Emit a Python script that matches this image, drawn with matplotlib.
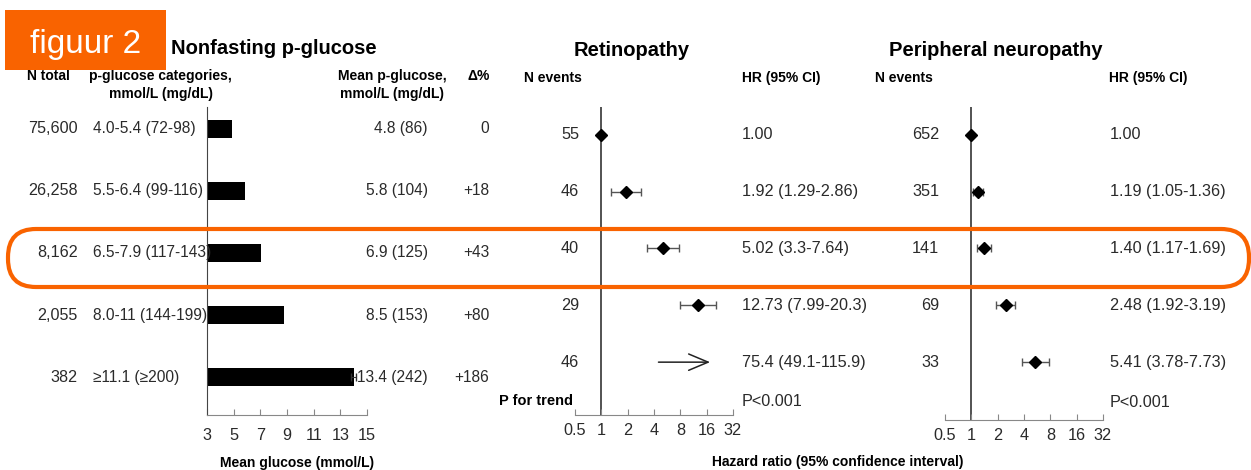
import numpy as np
import matplotlib
matplotlib.use("Agg")
import matplotlib.pyplot as plt
import matplotlib.transforms as mtransforms
from matplotlib.patches import Rectangle, FancyBboxPatch

plt.rcParams['font.family'] = ['Liberation Sans', 'DejaVu Sans']

# ---- data ----
n_total = ['75,600', '26,258', '8,162', '2,055', '382']
categories = ['4.0-5.4 (72-98)', '5.5-6.4 (99-116)', '6.5-7.9 (117-143)',
              '8.0-11 (144-199)', '\u226511.1 (\u2265200)']
mean_text = ['4.8 (86)', '5.8 (104)', '6.9 (125)', '8.5 (153)', '13.4 (242)']
delta_pct = ['0', '+18', '+43', '+80', '+186']
bar_len = [4.9, 5.85, 7.05, 8.8, 14.0]
bar_err = [0, 0, 0, 0, 0.2]
glucose_ticks = [3, 5, 7, 9, 11, 13, 15]

ret_events = ['55', '46', '40', '29', '46']
ret_hr = [1.00, 1.92, 5.02, 12.73, 75.4]
ret_lo = [1.00, 1.29, 3.3, 7.99, 49.1]
ret_hi = [1.00, 2.86, 7.64, 20.3, 115.9]
ret_text = ['1.00', '1.92 (1.29-2.86)', '5.02 (3.3-7.64)',
            '12.73 (7.99-20.3)', '75.4 (49.1-115.9)']
ret_arrow = (4.5, 17.5)   # off-scale row drawn as arrow

neu_events = ['652', '351', '141', '69', '33']
neu_hr = [1.00, 1.19, 1.40, 2.48, 5.41]
neu_lo = [1.00, 1.05, 1.17, 1.92, 3.78]
neu_hi = [1.00, 1.36, 1.69, 3.19, 7.73]
neu_text = ['1.00', '1.19 (1.05-1.36)', '1.40 (1.17-1.69)',
            '2.48 (1.92-3.19)', '5.41 (3.78-7.73)']
hr_ticks = [0.5, 1, 2, 4, 8, 16, 32]
hr_ticklabels = ['0.5', '1', '2', '4', '8', '16', '32']

W, H = 1251, 470
fig = plt.figure(figsize=(W / 100, H / 100), dpi=100)
ORANGE = '#F96300'
TXT = '#2a2a2a'
FS = 11.7


def fx(x):
    return x / W


def fy(y):
    return 1 - y / H


def axes_px(x0, x1, ytop, ybot):
    return fig.add_axes([fx(x0), fy(ybot), fx(x1) - fx(x0), (ybot - ytop) / H])


rows = np.arange(5)

# ---- panel 1: bars ----
ax1 = axes_px(207, 367, 107, 415)
ax1.barh(rows, np.array(bar_len) - 3, left=3, height=0.29, color='black')
err = np.array(bar_err)
has_err = err > 0
ax1.errorbar(np.array(bar_len)[has_err], rows[has_err], xerr=err[has_err],
             fmt='none', ecolor='#333', elinewidth=0.8, capsize=3)
ax1.set_xlim(3, 15)
ax1.set_ylim(4.61, -0.35)
ax1.set_xticks(glucose_ticks)
ax1.set_yticks([])
for s in ['top', 'right']:
    ax1.spines[s].set_visible(False)
ax1.spines['left'].set_color('#444')
ax1.spines['bottom'].set_color('#888')
ax1.tick_params(axis='x', direction='in', length=4, color='#888',
                labelsize=FS, labelcolor=TXT, pad=9)

tr1 = mtransforms.blended_transform_factory(fig.transFigure, ax1.transData)
for i in rows:
    fig.text(fx(78), i, n_total[i], transform=tr1, ha='right', va='center',
             fontsize=11.6, color=TXT)
    fig.text(fx(93), i, categories[i], transform=tr1, ha='left', va='center',
             fontsize=11.2, color=TXT)
    fig.text(fx(428), i, mean_text[i], transform=tr1, ha='right', va='center',
             fontsize=11.2, color=TXT)
    fig.text(fx(489), i, delta_pct[i], transform=tr1, ha='right', va='center',
             fontsize=11.2, color=TXT)


# ---- forest panels ----
def forest(x0, x1, ybot, ylim_bot, events, hr, lo, hi, text, nx, hx, ptext_row):
    ax = axes_px(x0, x1, 107, ybot)
    ax.set_xscale('log', base=2)
    ax.set_xlim(0.5, 32)
    ax.set_ylim(ylim_bot, -0.49)
    ax.axvline(1, color='#444', lw=1.3, zorder=1)
    hr = np.array(hr)
    lo = np.array(lo)
    hi = np.array(hi)
    keep = hr <= 32
    ax.errorbar(hr[keep], rows[keep], xerr=[hr[keep] - lo[keep], hi[keep] - hr[keep]],
                fmt='D', color='black', markersize=6, ecolor='#555',
                elinewidth=1, capsize=3.2, capthick=1, zorder=3)
    ax.set_xticks(hr_ticks)
    ax.set_xticklabels(hr_ticklabels)
    ax.minorticks_off()
    ax.set_yticks([])
    for s in ['top', 'right', 'left']:
        ax.spines[s].set_visible(False)
    ax.spines['bottom'].set_color('#888')
    ax.tick_params(axis='x', direction='in', length=4, color='#888',
                   labelsize=FS, labelcolor=TXT, pad=6)
    tr = mtransforms.blended_transform_factory(fig.transFigure, ax.transData)
    for i in rows:
        fig.text(fx(nx), i, events[i], transform=tr, ha='right', va='center',
                 fontsize=FS, color=TXT)
        fig.text(fx(hx), i, text[i], transform=tr, ha='left', va='center',
                 fontsize=FS, color=TXT)
    fig.text(fx(hx), ptext_row, 'P<0.001', transform=tr, ha='left', va='center',
             fontsize=FS, color=TXT)
    return ax, tr


ax2, tr2 = forest(575, 733, 415, 4.93, ret_events, ret_hr, ret_lo, ret_hi,
                  ret_text, 579, 742, 4.69)
ax2.annotate('', xy=(ret_arrow[1], 4), xytext=(ret_arrow[0], 4),
             arrowprops=dict(arrowstyle='->,head_length=1.0,head_width=0.42',
                             color='#222', lw=1.1, mutation_scale=14,
                             shrinkA=0, shrinkB=0))
fig.text(fx(499), 4.69, 'P for trend', transform=tr2, ha='left', va='center',
         fontsize=10.5, fontweight='bold', color='black')

ax3, tr3 = forest(945, 1103, 420, 5.02, neu_events, neu_hr, neu_lo, neu_hi,
                  neu_text, 939, 1110, 4.72)

# ---- titles and headers ----
fig.text(fx(171), fy(49), 'Nonfasting p-glucose', ha='left', va='center',
         fontsize=14.5, fontweight='bold')
fig.text(fx(632), fy(51), 'Retinopathy', ha='center', va='center',
         fontsize=14.5, fontweight='bold')
fig.text(fx(996), fy(51), 'Peripheral neuropathy', ha='center', va='center',
         fontsize=14.5, fontweight='bold')

hkw = dict(fontsize=10, fontweight='bold', va='center')
fig.text(fx(27), fy(76), 'N total', ha='left', **hkw)
fig.text(fx(160), fy(76), 'p-glucose categories,', ha='center', **hkw)
fig.text(fx(161), fy(94), 'mmol/L (mg/dL)', ha='center', **hkw)
fig.text(fx(392), fy(76), 'Mean p-glucose,', ha='center', **hkw)
fig.text(fx(392), fy(94), 'mmol/L (mg/dL)', ha='center', **hkw)
fig.text(fx(479), fy(76), '\u0394%', ha='center', **hkw)
fig.text(fx(524), fy(78), 'N events', ha='left', **hkw)
fig.text(fx(742), fy(78), 'HR (95% CI)', ha='left', **hkw)
fig.text(fx(875), fy(78), 'N events', ha='left', **hkw)
fig.text(fx(1109), fy(78), 'HR (95% CI)', ha='left', **hkw)

fig.text(fx(297), fy(463), 'Mean glucose (mmol/L)', ha='center', **hkw)
fig.text(fx(838), fy(462), 'Hazard ratio (95% confidence interval)', ha='center', **hkw)

# ---- orange label and highlight ----
fig.add_artist(Rectangle((fx(5), fy(70)), fx(166) - fx(5), (70 - 10) / H,
                         transform=fig.transFigure, facecolor=ORANGE,
                         edgecolor='none', zorder=5))
fig.text(fx(30), fy(53), 'figuur 2', ha='left', va='baseline', fontsize=24,
         color='white', zorder=6)

hl = FancyBboxPatch((8, H - 287), 1241, 58,
                    boxstyle='round,pad=0,rounding_size=28',
                    transform=mtransforms.IdentityTransform(),
                    facecolor='none', edgecolor=ORANGE, lw=3, zorder=10)
fig.add_artist(hl)

fig.savefig('out.png', dpi=100)
